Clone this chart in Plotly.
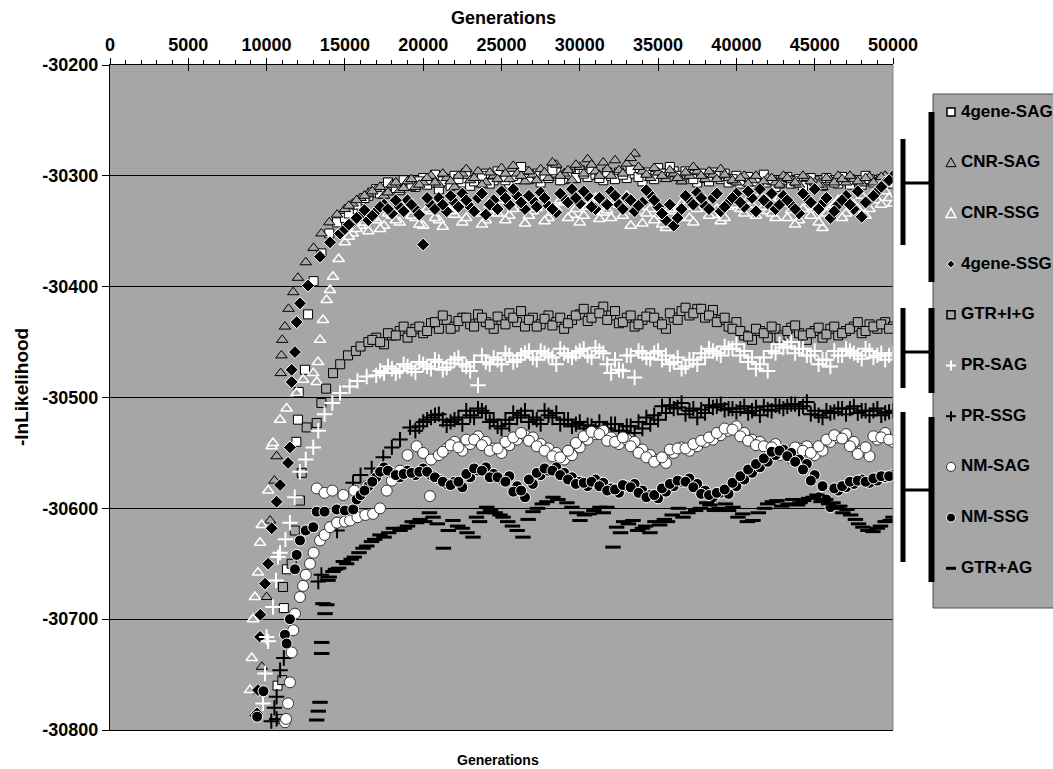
import plotly.graph_objects as go

# ---------------- data (generation, -lnLikelihood) ----------------
STEP = 500

SAG4_EARLY_GEN = [10700, 11100, 11300, 11900, 12000, 12050, 12450, 12650, 13000, 13500, 14000, 14500]
SAG4_EARLY_VAL = [-30760, -30690, -30655, -30540, -30520, -30495, -30475, -30425, -30395, -30370, -30352, -30342]
SAG4_START = 15000
SAG4_VAL = [-30338, -30330, -30322, -30318, -30312, -30310, -30308, -30313, -30307, -30310,
            -30302, -30306, -30312, -30303, -30300, -30306, -30309, -30302, -30298, -30304,
            -30300, -30307, -30303, -30296, -30301, -30306, -30302, -30297, -30303, -30300,
            -30295, -30301, -30299, -30304, -30300, -30297, -30302, -30298, -30305, -30300,
            -30293, -30298, -30296, -30303, -30299, -30306, -30302, -30297, -30303, -30306,
            -30300, -30304, -30308, -30302, -30306, -30310, -30304, -30307, -30303, -30308,
            -30305, -30309, -30304, -30307, -30302, -30305, -30308, -30303, -30306, -30302,
            -30304]
SAG4_MID_START = 15250
SAG4_MID = [-30334, -30326, -30320, -30315, -30316, -30306, -30311, -30304, -30309, -30305,
            -30308, -30299, -30305, -30309, -30303, -30298, -30305, -30300, -30307, -30296,
            -30304, -30300, -30292, -30303, -30298, -30300, -30295, -30304, -30298, -30302,
            -30298, -30294, -30302, -30297, -30303, -30299, -30295, -30301, -30297, -30303,
            -30298, -30292, -30300, -30296, -30303, -30298, -30305, -30300, -30298, -30303,
            -30307, -30301, -30305, -30299, -30304, -30307, -30301, -30305, -30309, -30302,
            -30307, -30302, -30306, -30301, -30308, -30304, -30300, -30306, -30303, -30307]

CNRSAG_EARLY_GEN = [9300, 9500, 9700, 10000, 10220, 10500, 10640, 10900, 10950, 11000, 11170, 11400, 11700, 12000, 12500, 13000, 13500, 14000, 14500]
CNRSAG_EARLY_VAL = [-30785, -30765, -30743, -30680, -30611, -30575, -30553, -30478, -30462, -30448, -30436, -30420, -30405, -30392, -30378, -30365, -30352, -30342, -30335]
CNRSAG_START = 15000
CNRSAG_VAL = [-30330, -30325, -30320, -30316, -30312, -30318, -30308, -30313, -30305, -30310,
              -30306, -30300, -30308, -30302, -30310, -30298, -30304, -30296, -30306, -30300,
              -30293, -30303, -30298, -30305, -30299, -30294, -30302, -30290, -30298, -30304,
              -30292, -30285, -30296, -30288, -30300, -30295, -30289, -30280, -30296, -30302,
              -30297, -30303, -30298, -30305, -30300, -30296, -30303, -30299, -30294, -30302,
              -30306, -30300, -30304, -30309, -30302, -30306, -30300, -30304, -30308, -30302,
              -30306, -30310, -30304, -30300, -30306, -30303, -30307, -30301, -30305, -30300,
              -30303]
CNRSAG_MID_START = 15250
CNRSAG_MID = [-30327, -30322, -30318, -30314, -30310, -30315, -30306, -30311, -30303, -30308,
              -30302, -30306, -30298, -30305, -30300, -30294, -30302, -30308, -30297, -30303,
              -30298, -30291, -30300, -30296, -30304, -30297, -30288, -30300, -30295, -30290,
              -30298, -30290, -30300, -30294, -30286, -30298, -30284, -30292, -30299, -30293,
              -30300, -30295, -30302, -30297, -30292, -30300, -30296, -30303, -30299, -30304,
              -30302, -30307, -30300, -30305, -30302, -30308, -30302, -30306, -30300, -30305,
              -30308, -30302, -30306, -30303, -30300, -30305, -30302, -30306, -30301, -30304]

CNRSSG_EARLY_GEN = [8940, 9050, 9130, 9260, 9450, 9580, 9690, 10100, 10325, 10410,
                    10860, 11280, 11920, 12330, 12980, 13200, 13280, 13410, 13600, 13830,
                    14050, 14240, 14600]
CNRSSG_EARLY_VAL = [-30764, -30735, -30700, -30680, -30658, -30631, -30615, -30584, -30544, -30541,
                    -30520, -30510, -30496, -30484, -30478, -30486, -30468, -30448, -30430, -30412,
                    -30403, -30391, -30375]
CNRSSG_START = 15000
CNRSSG_VAL = [-30360, -30352, -30345, -30350, -30340, -30345, -30336, -30342, -30330, -30338,
              -30345, -30332, -30340, -30328, -30335, -30342, -30326, -30334, -30340, -30330,
              -30322, -30336, -30328, -30343, -30332, -30325, -30338, -30330, -30324, -30335,
              -30342, -30328, -30320, -30333, -30338, -30326, -30318, -30332, -30343, -30330,
              -30336, -30347, -30332, -30325, -30338, -30330, -30322, -30335, -30341, -30328,
              -30320, -30334, -30326, -30318, -30332, -30338, -30325, -30331, -30340, -30328,
              -30336, -30347, -30330, -30322, -30334, -30326, -30318, -30330, -30322, -30314,
              -30325]
CNRSSG_MID_START = 15250
CNRSSG_MID = [-30355, -30348, -30342, -30338, -30348, -30334, -30340, -30328, -30336, -30344,
              -30330, -30338, -30346, -30332, -30327, -30338, -30331, -30344, -30326, -30334,
              -30340, -30330, -30324, -30336, -30329, -30341, -30333, -30322, -30338, -30330,
              -30336, -30324, -30339, -30331, -30322, -30336, -30345, -30328, -30334, -30340,
              -30344, -30330, -30338, -30328, -30342, -30324, -30336, -30330, -30338, -30326,
              -30330, -30322, -30336, -30328, -30334, -30320, -30338, -30344, -30330, -30336,
              -30342, -30334, -30326, -30338, -30324, -30330, -30336, -30316, -30326, -30320]

SSG4_EARLY_GEN = [9390, 9450, 9580, 9600, 9900, 10100, 10325, 10640, 10860, 11370,
                  11490, 11600, 11600, 11810, 11920, 12130, 12650, 13410, 14050, 14690]
SSG4_EARLY_VAL = [-30785, -30764, -30716, -30696, -30668, -30650, -30618, -30594, -30579, -30559,
                  -30545, -30486, -30475, -30459, -30432, -30415, -30399, -30373, -30360, -30352]
SSG4_START = 15000
SSG4_VAL = [-30348, -30342, -30336, -30340, -30332, -30326, -30334, -30328, -30322, -30330,
            -30362, -30326, -30320, -30332, -30324, -30316, -30328, -30320, -30335, -30322,
            -30314, -30326, -30318, -30330, -30322, -30315, -30327, -30333, -30320, -30312,
            -30325, -30318, -30330, -30322, -30314, -30326, -30320, -30332, -30324, -30317,
            -30328, -30340, -30345, -30330, -30322, -30315, -30327, -30320, -30332, -30324,
            -30316, -30328, -30320, -30312, -30325, -30330, -30318, -30326, -30334, -30320,
            -30312, -30325, -30338, -30326, -30318, -30330, -30337, -30322, -30314, -30306,
            -30300]
SSG4_MID_START = 15250
SSG4_MID = [-30344, -30338, -30331, -30336, -30328, -30330, -30322, -30332, -30326, -30335,
            -30320, -30330, -30326, -30318, -30328, -30322, -30332, -30316, -30326, -30330,
            -30320, -30312, -30324, -30318, -30328, -30320, -30330, -30316, -30324, -30320,
            -30314, -30328, -30320, -30326, -30318, -30330, -30322, -30327, -30313, -30322,
            -30334, -30326, -30338, -30318, -30326, -30320, -30330, -30316, -30328, -30320,
            -30324, -30314, -30332, -30322, -30316, -30326, -30322, -30330, -30316, -30324,
            -30330, -30320, -30332, -30322, -30326, -30314, -30324, -30318, -30310, -30304]

GTRIG_EARLY_GEN = [10960, 11000, 11050, 11600, 11800, 12130, 12240, 12560, 13200, 13500, 13800, 14240, 14700, 15200, 15700, 16000]
GTRIG_EARLY_VAL = [-30790, -30755, -30671, -30650, -30620, -30593, -30568, -30527, -30523, -30505, -30492, -30478, -30470, -30462, -30458, -30454]
GTRIG_START = 16500
GTRIG_VAL = [-30450, -30446, -30452, -30444, -30440, -30446, -30438,
             -30442, -30433, -30438, -30430, -30436, -30428, -30434, -30425, -30432, -30438,
             -30430, -30424, -30432, -30436, -30428, -30434, -30426, -30432, -30438, -30430,
             -30425, -30431, -30422, -30418, -30426, -30433, -30428, -30436, -30430, -30424,
             -30432, -30438, -30428, -30422, -30426, -30420, -30428, -30421, -30430, -30436,
             -30432, -30444, -30448, -30440, -30446, -30438, -30444, -30437, -30442, -30448,
             -30440, -30446, -30438, -30444, -30440, -30436, -30442, -30434, -30438, -30432,
             -30436]
GTRIG_MID_START = 16750
GTRIG_MID = [-30448, -30450, -30442, -30444, -30436, -30441,
             -30436, -30440, -30432, -30426, -30438, -30431, -30428, -30436, -30428, -30434,
             -30427, -30434, -30428, -30422, -30430, -30436, -30429, -30435, -30428, -30433,
             -30426, -30420, -30428, -30424, -30430, -30422, -30432, -30426, -30434, -30427,
             -30428, -30434, -30424, -30430, -30419, -30424, -30420, -30426, -30432, -30428,
             -30438, -30440, -30445, -30438, -30442, -30436, -30446, -30440, -30435, -30444,
             -30442, -30437, -30443, -30436, -30442, -30438, -30432, -30440, -30436, -30434,
             -30438]

PRSAG_EARLY_GEN = [9770, 9900, 10000, 10100, 10410, 10600, 10730, 10860, 11200, 11490,
                   11800, 12130, 12500, 12980, 13300, 13700, 14200, 14690, 15300, 15800, 16390]
PRSAG_EARLY_VAL = [-30776, -30749, -30716, -30720, -30689, -30665, -30644, -30640, -30628, -30613,
                   -30590, -30567, -30556, -30545, -30530, -30515, -30505, -30496, -30490, -30485, -30481]
PRSAG_START = 17000
PRSAG_VAL = [-30480, -30478, -30474, -30476, -30472, -30477,
             -30470, -30474, -30468, -30473, -30466, -30470, -30476, -30489, -30468, -30464,
             -30470, -30462, -30466, -30460, -30464, -30458, -30462, -30470, -30460, -30464,
             -30458, -30462, -30455, -30460, -30478, -30475, -30462, -30482, -30460, -30465,
             -30458, -30462, -30468, -30474, -30466, -30470, -30464, -30458, -30462, -30456,
             -30452, -30458, -30464, -30470, -30476, -30460, -30455, -30450, -30456, -30462,
             -30458, -30466, -30472, -30462, -30456, -30460, -30465, -30458, -30462, -30466,
             -30460]
PRSAG_MID_START = 17250
PRSAG_MID = [-30476, -30472, -30478, -30470, -30474,
             -30468, -30472, -30466, -30475, -30469, -30464, -30472, -30468, -30462, -30470,
             -30466, -30460, -30468, -30462, -30458, -30466, -30460, -30464, -30456, -30462,
             -30460, -30456, -30464, -30458, -30470, -30466, -30476, -30462, -30458, -30464,
             -30460, -30466, -30470, -30464, -30472, -30466, -30460, -30456, -30460, -30454,
             -30456, -30462, -30468, -30474, -30464, -30458, -30452, -30454, -30460, -30456,
             -30462, -30470, -30466, -30458, -30462, -30458, -30462, -30456, -30464, -30460,
             -30462]

PRSSG_EARLY_GEN = [10300, 10500, 10640, 10640, 10860, 11100, 13300, 13500, 14500, 15520, 16000, 16710, 17450, 18000, 18520, 19160]
PRSSG_EARLY_VAL = [-30792, -30780, -30770, -30790, -30746, -30735, -30666, -30660, -30620, -30577, -30570, -30564, -30554, -30545, -30538, -30527]
PRSSG_START = 19500
PRSSG_VAL = [-30530,
             -30522, -30518, -30515, -30525, -30520, -30524, -30516, -30510, -30514, -30520,
             -30528, -30524, -30518, -30512, -30518, -30524, -30516, -30514, -30520, -30526,
             -30522, -30525, -30530, -30528, -30524, -30530, -30526, -30532, -30528, -30524,
             -30520, -30514, -30510, -30505, -30512, -30518, -30514, -30509, -30506, -30510,
             -30513, -30508, -30512, -30516, -30511, -30507, -30510, -30506, -30510, -30504,
             -30512, -30518, -30514, -30510, -30515, -30508, -30512, -30516, -30510, -30514,
             -30512]
PRSSG_MID_START = 19750
PRSSG_MID = [-30526, -30520, -30516, -30520, -30522, -30518, -30512, -30518, -30512, -30522,
             -30526, -30520, -30514, -30516, -30522, -30520, -30512, -30518, -30524, -30520,
             -30524, -30528, -30526, -30522, -30528, -30524, -30530, -30526, -30522, -30518,
             -30516, -30508, -30507, -30509, -30515, -30510, -30511, -30507, -30508, -30511,
             -30510, -30510, -30514, -30509, -30508, -30512, -30508, -30508, -30506, -30508,
             -30515, -30516, -30512, -30513, -30510, -30510, -30514, -30512, -30512, -30516,
             -30513]

NMSAG_EARLY_GEN = [11175, 11240, 11370, 11490, 11600, 11700, 11810, 12130, 12330, 12500,
                   12770, 13000, 13410, 13700, 14050, 14500, 15000, 15330, 15800, 16300,
                   16800, 17240, 17670, 18000, 18520, 19000, 19580, 20000, 20430, 20500,
                   13200, 13700, 14200, 14900, 15600, 16400]
NMSAG_EARLY_VAL = [-30793, -30790, -30776, -30757, -30730, -30710, -30695, -30680, -30670, -30660,
                   -30650, -30640, -30629, -30624, -30617, -30613, -30612, -30611, -30608, -30606,
                   -30605, -30600, -30584, -30575, -30566, -30552, -30544, -30550, -30589, -30556,
                   -30582, -30586, -30584, -30588, -30584, -30580]
NMSAG_START = 21000
NMSAG_VAL = [-30552, -30546, -30540, -30548, -30542, -30535, -30540, -30546,
             -30550, -30543, -30538, -30534, -30536, -30542, -30546, -30550, -30556, -30552,
             -30545, -30538, -30533, -30530, -30536, -30542, -30538, -30540, -30547, -30552,
             -30556, -30559, -30550, -30545, -30548, -30544, -30540, -30538, -30534, -30530,
             -30526, -30532, -30538, -30540, -30546, -30542, -30548, -30555, -30546, -30544,
             -30552, -30548, -30540, -30536, -30533, -30540, -30548, -30553, -30538, -30532,
             -30540]
NMSAG_MID_START = 21250
NMSAG_MID = [-30549, -30543, -30545, -30538, -30538, -30543, -30548,
             -30546, -30540, -30536, -30532, -30539, -30544, -30548, -30553, -30554, -30548,
             -30541, -30535, -30531, -30533, -30539, -30540, -30536, -30544, -30550, -30554,
             -30558, -30554, -30547, -30546, -30546, -30542, -30539, -30536, -30532, -30528,
             -30529, -30535, -30539, -30543, -30544, -30545, -30552, -30550, -30545, -30548,
             -30550, -30544, -30538, -30534, -30537, -30544, -30551, -30545, -30535, -30536,
             -30538]

NMSSG_EARLY_GEN = [9400, 9800, 11170, 11280, 11490, 11810, 11920, 12130, 12500, 12980, 13200, 13700, 14470, 15000, 15530, 15750]
NMSSG_EARLY_VAL = [-30788, -30765, -30714, -30722, -30700, -30655, -30642, -30629, -30620, -30617, -30603, -30603, -30601, -30602, -30601, -30592]
NMSSG_START = 16000
NMSSG_VAL = [-30588, -30580, -30572, -30563, -30568, -30572, -30566, -30570,
             -30564, -30570, -30574, -30578, -30576, -30581, -30572, -30566, -30563, -30569,
             -30574, -30571, -30580, -30590, -30578, -30570, -30566, -30563, -30568, -30572,
             -30576, -30580, -30574, -30577, -30582, -30586, -30580, -30578, -30584, -30588,
             -30591, -30585, -30580, -30576, -30573, -30578, -30584, -30590, -30586, -30587,
             -30580, -30574, -30568, -30563, -30558, -30552, -30547, -30550, -30556, -30560,
             -30570, -30580, -30599, -30584, -30581, -30578, -30574, -30577, -30575, -30572,
             -30570]
NMSSG_MID_START = 16250
NMSSG_MID = [-30584, -30576, -30567, -30566, -30570, -30569, -30568,
             -30567, -30567, -30572, -30576, -30579, -30576, -30569, -30564, -30566, -30572,
             -30572, -30576, -30585, -30584, -30574, -30568, -30564, -30566, -30570, -30574,
             -30578, -30577, -30576, -30580, -30584, -30583, -30579, -30581, -30586, -30590,
             -30588, -30582, -30578, -30575, -30576, -30581, -30587, -30588, -30586, -30583,
             -30577, -30571, -30565, -30560, -30555, -30549, -30548, -30553, -30558, -30565,
             -30575, -30590, -30592, -30582, -30580, -30576, -30575, -30576, -30573, -30571,
             -30571]

GTRAG_GEN = [13200, 13300, 13410, 13520, 13520, 13600, 13730, 13840, 13920, 14240,
             14600, 15110, 15600, 16160, 16700, 17240, 17800, 18520, 19000, 19580,
             20100, 20630, 21290, 21900, 22500, 23180, 23600, 24060, 24600, 25100,
             25700, 26370, 27010, 27600, 28290, 29180, 30010, 30600, 31290, 31720,
             32120, 32350, 32800, 33400, 34000, 34480, 35100, 35600, 36590, 37400,
             38310, 38900, 39780, 40400, 41060, 41800, 42590, 43300, 44060, 44600,
             45150, 45700, 46170, 46600, 47060, 47600, 48080, 48720, 49200, 49810]
GTRAG_VAL = [-30791, -30783, -30775, -30731, -30721, -30686, -30695, -30687, -30665, -30657,
             -30654, -30650, -30644, -30636, -30630, -30624, -30622, -30620, -30616, -30613,
             -30612, -30608, -30636, -30611, -30618, -30626, -30612, -30599, -30604, -30608,
             -30616, -30626, -30603, -30596, -30590, -30595, -30611, -30605, -30599, -30599,
             -30635, -30617, -30612, -30611, -30618, -30622, -30615, -30612, -30608, -30602,
             -30597, -30600, -30599, -30605, -30611, -30600, -30593, -30596, -30595, -30591,
             -30588, -30592, -30595, -30598, -30601, -30610, -30617, -30621, -30616, -30611]
GTRAG2_GEN = [14000, 14400, 14900, 15400, 15900, 16400, 16900, 17500, 18100, 18800,
              19300, 19800, 20400, 20900, 21600, 22200, 22800, 23400, 23900, 24300,
              24900, 25400, 26000, 26700, 27300, 27900, 28600, 29500, 29800, 30300,
              30900, 31500, 32600, 33100, 33700, 34200, 34800, 35400, 35900, 36300,
              36900, 37700, 38100, 38600, 39300, 39500, 40100, 40700, 41400, 42000,
              42300, 42900, 43600, 43900, 44300, 44900, 45400, 45900, 46400, 46800,
              47300, 47800, 48400, 49000, 49500, 50000]
GTRAG2_VAL = [-30662, -30655, -30648, -30646, -30640, -30634, -30628, -30626, -30618, -30618,
              -30612, -30610, -30604, -30614, -30620, -30616, -30622, -30608, -30604, -30602,
              -30606, -30612, -30620, -30610, -30600, -30594, -30592, -30599, -30604, -30606,
              -30602, -30604, -30622, -30614, -30620, -30616, -30612, -30610, -30606, -30600,
              -30604, -30600, -30595, -30602, -30596, -30602, -30608, -30612, -30604, -30596,
              -30594, -30598, -30592, -30597, -30593, -30590, -30594, -30596, -30600, -30604,
              -30606, -30614, -30620, -30618, -30612, -30608]

SERIES_NAMES = ["4gene-SAG", "CNR-SAG", "CNR-SSG", "4gene-SSG", "GTR+I+G",
                "PR-SAG", "PR-SSG", "NM-SAG", "NM-SSG", "GTR+AG"]
X_TICKS = [0, 5000, 10000, 15000, 20000, 25000, 30000, 35000, 40000, 45000, 50000]
X_TICK_TEXT = ["0", "5000", "10000", "15000", "20000", "25000", "30000", "35000", "40000", "45000", "50000"]
Y_TICKS = [-30200, -30300, -30400, -30500, -30600, -30700, -30800]
Y_TICK_TEXT = ["-30200", "-30300", "-30400", "-30500", "-30600", "-30700", "-30800"]

# ---------------- styling ----------------
BG = "#a6a6a6"
FONT = "Liberation Sans"


def series(early_gen, early_val, start, vals, mid_start=None, mid=None):
    gens = list(early_gen) + list(range(start, start + STEP * len(vals), STEP))
    ys = list(early_val) + list(vals)
    if mid is not None:
        gens += list(range(mid_start, mid_start + STEP * len(mid), STEP))
        ys += list(mid)
    return gens, ys


fig = go.Figure()


def add(name, gx, gy, marker):
    fig.add_trace(go.Scatter(x=gx, y=gy, mode="markers", name=name, showlegend=False,
                             marker=marker, hoverinfo="skip"))


gx, gy = series(SAG4_EARLY_GEN, SAG4_EARLY_VAL, SAG4_START, SAG4_VAL, SAG4_MID_START, SAG4_MID)
add(SERIES_NAMES[0], gx, gy, dict(symbol="square", size=9, color="white", line=dict(color="black", width=1)))
gx, gy = series(CNRSAG_EARLY_GEN, CNRSAG_EARLY_VAL, CNRSAG_START, CNRSAG_VAL, CNRSAG_MID_START, CNRSAG_MID)
add(SERIES_NAMES[1], gx, gy, dict(symbol="triangle-up", size=10, color=BG, line=dict(color="black", width=1)))
gx, gy = series(CNRSSG_EARLY_GEN, CNRSSG_EARLY_VAL, CNRSSG_START, CNRSSG_VAL, CNRSSG_MID_START, CNRSSG_MID)
add(SERIES_NAMES[2], gx, gy, dict(symbol="triangle-up", size=10, color=BG, line=dict(color="white", width=1.5)))
gx, gy = series(SSG4_EARLY_GEN, SSG4_EARLY_VAL, SSG4_START, SSG4_VAL, SSG4_MID_START, SSG4_MID)
add(SERIES_NAMES[3], gx, gy, dict(symbol="diamond", size=10, color="black", line=dict(color="white", width=1)))
gx, gy = series(GTRIG_EARLY_GEN, GTRIG_EARLY_VAL, GTRIG_START, GTRIG_VAL, GTRIG_MID_START, GTRIG_MID)
add(SERIES_NAMES[4], gx, gy, dict(symbol="square", size=9, color=BG, line=dict(color="black", width=1)))
gx, gy = series(PRSAG_EARLY_GEN, PRSAG_EARLY_VAL, PRSAG_START, PRSAG_VAL, PRSAG_MID_START, PRSAG_MID)
add(SERIES_NAMES[5], gx, gy, dict(symbol="cross-thin", size=11, color="white", line=dict(color="white", width=2)))
gx, gy = series(PRSSG_EARLY_GEN, PRSSG_EARLY_VAL, PRSSG_START, PRSSG_VAL, PRSSG_MID_START, PRSSG_MID)
add(SERIES_NAMES[6], gx, gy, dict(symbol="cross-thin", size=11, color="black", line=dict(color="black", width=2)))
gx, gy = series(NMSAG_EARLY_GEN, NMSAG_EARLY_VAL, NMSAG_START, NMSAG_VAL, NMSAG_MID_START, NMSAG_MID)
add(SERIES_NAMES[7], gx, gy, dict(symbol="circle", size=11, color="white", line=dict(color="#333333", width=1)))
gx, gy = series(NMSSG_EARLY_GEN, NMSSG_EARLY_VAL, NMSSG_START, NMSSG_VAL, NMSSG_MID_START, NMSSG_MID)
add(SERIES_NAMES[8], gx, gy, dict(symbol="circle", size=11, color="black", line=dict(color="white", width=1)))
add(SERIES_NAMES[9], GTRAG_GEN + GTRAG2_GEN, GTRAG_VAL + GTRAG2_VAL,
    dict(symbol="line-ew", size=11, color="black", line=dict(color="black", width=3)))

# helper trace so that the overlay axis (inner half of major ticks) is drawn
fig.add_trace(go.Scatter(x=[None], y=[None], xaxis="x2", showlegend=False, hoverinfo="skip"))

L, R, T, B = 110, 893, 65, 730
W, H = 1053, 769
pw, ph = R - L, B - T


def px(xp):
    return (xp - L) / pw


def py(yp):
    return (B - yp) / ph


axis_font = dict(family=FONT, size=18, color="black", weight="bold")

fig.update_layout(
    width=W, height=H,
    margin=dict(l=L, r=W - R, t=T, b=H - B, pad=0, autoexpand=False),
    paper_bgcolor="white", plot_bgcolor=BG,
    font=dict(family=FONT, color="black"),
    showlegend=False,
    xaxis=dict(range=[0, 50000], side="top", tickmode="array", tickvals=X_TICKS, ticktext=X_TICK_TEXT,
               ticks="outside", ticklen=6, tickwidth=1, tickcolor="black",
               minor=dict(dtick=1000, tick0=0, ticks="outside", ticklen=4, tickcolor="black", showgrid=False),
               showline=True, linecolor="black", linewidth=1, mirror=True,
               showgrid=False, zeroline=False, tickfont=axis_font, fixedrange=True),
    xaxis2=dict(range=[0, 50000], overlaying="x", side="top", tickmode="array", tickvals=X_TICKS,
                ticks="inside", ticklen=6, tickcolor="black", showticklabels=False,
                showline=False, showgrid=False, zeroline=False),
    yaxis=dict(range=[-30800, -30200], tickmode="array", tickvals=Y_TICKS, ticktext=Y_TICK_TEXT,
               ticks="outside", ticklen=7, tickwidth=1, tickcolor="black",
               showline=True, linecolor="black", linewidth=1,
               showgrid=True, gridcolor="black", gridwidth=1, zeroline=False,
               tickfont=axis_font, fixedrange=True),
)

shapes = []
# right border of plot area (grey)
shapes.append(dict(type="line", xref="paper", yref="paper", x0=1, x1=1, y0=0, y1=1,
                   line=dict(color="#808080", width=1)))

# ---- legend box (drawn by hand to match the original layout) ----
shapes.append(dict(type="rect", xref="paper", yref="paper", x0=px(933), x1=px(1070),
                   y0=py(608), y1=py(94), fillcolor=BG, line=dict(color="#4d4d4d", width=1)))

# group brackets beside the legend
BAR = "black"
for (b0, b1), (s0, s1), c in [((112, 282), (139, 245), 183),
                              ((308, 393), (308, 388), 352),
                              ((417, 582), (412, 562), 490)]:
    shapes.append(dict(type="line", xref="paper", yref="paper", x0=px(931.5), x1=px(931.5),
                       y0=py(b0), y1=py(b1), line=dict(color=BAR, width=6)))
    shapes.append(dict(type="line", xref="paper", yref="paper", x0=px(903), x1=px(903),
                       y0=py(s0), y1=py(s1), line=dict(color=BAR, width=5)))
    shapes.append(dict(type="line", xref="paper", yref="paper", x0=px(905), x1=px(929),
                       y0=py(c), y1=py(c), line=dict(color=BAR, width=3)))

LEG_Y0, LEG_DY, SYM_X, TXT_X = 111, 50.7, 951, 959


def P(x, y):
    return f"{px(x):.5f},{py(y):.5f}"


def poly(pts, fill, line_color, lw=1):
    d = "M " + " L ".join(P(x, y) for x, y in pts) + " Z"
    return dict(type="path", xref="paper", yref="paper", path=d, fillcolor=fill,
                line=dict(color=line_color, width=lw))


def box(cx, cy, s, fill, line_color, kind="rect", lw=1):
    return dict(type=kind, xref="paper", yref="paper", x0=px(cx - s / 2), x1=px(cx + s / 2),
                y0=py(cy + s / 2), y1=py(cy - s / 2), fillcolor=fill, line=dict(color=line_color, width=lw))


def seg(x0, y0, x1, y1, color, lw):
    return dict(type="line", xref="paper", yref="paper", x0=px(x0), x1=px(x1), y0=py(y0), y1=py(y1),
                line=dict(color=color, width=lw))


for i, name in enumerate(SERIES_NAMES):
    cy = LEG_Y0 + LEG_DY * i
    cx = SYM_X
    if i == 0:
        shapes.append(box(cx, cy + 1, 8, "white", "black", lw=1.5))
    elif i == 1:
        shapes.append(poly([(cx - 5, cy + 5), (cx + 5, cy + 5), (cx, cy - 4)], BG, "black"))
    elif i == 2:
        shapes.append(poly([(cx - 5, cy + 5), (cx + 5, cy + 5), (cx, cy - 4)], BG, "white", 1.5))
    elif i == 3:
        shapes.append(poly([(cx, cy - 3), (cx + 4, cy + 1), (cx, cy + 5), (cx - 4, cy + 1)], "black", "white"))
    elif i == 4:
        shapes.append(box(cx, cy + 1, 8, BG, "black", lw=1.5))
    elif i in (5, 6):
        col = "white" if i == 5 else "black"
        shapes.append(seg(cx - 5, cy + 1, cx + 5, cy + 1, col, 2))
        shapes.append(seg(cx, cy - 4, cx, cy + 6, col, 2))
    elif i == 7:
        shapes.append(box(cx, cy + 1, 9, "white", "#333333", kind="circle"))
    elif i == 8:
        shapes.append(box(cx, cy + 1, 9, "black", "white", kind="circle"))
    else:
        shapes.append(seg(cx - 5, cy + 1, cx + 5, cy + 1, "black", 3))
    fig.add_annotation(text=name, xref="paper", yref="paper", x=px(TXT_X), y=py(cy),
                       showarrow=False, xanchor="left", yanchor="middle",
                       font=dict(family=FONT, size=17, color="black", weight="bold"))

fig.update_layout(shapes=shapes)

fig.add_annotation(text="Generations", xref="paper", yref="paper", x=px(503), y=py(18),
                   showarrow=False, xanchor="center", yanchor="middle",
                   font=dict(family=FONT, size=18, color="black", weight="bold"))
fig.add_annotation(text="Generations", xref="paper", yref="paper", x=px(498), y=py(760),
                   showarrow=False, xanchor="center", yanchor="middle",
                   font=dict(family=FONT, size=14, color="black", weight="bold"))
fig.add_annotation(text="-lnLikelihood", xref="paper", yref="paper", x=px(22), y=py(387),
                   showarrow=False, xanchor="center", yanchor="middle", textangle=-90,
                   font=dict(family=FONT, size=19, color="black", weight="bold"))

fig.write_html("out.html", config={"displayModeBar": False})
